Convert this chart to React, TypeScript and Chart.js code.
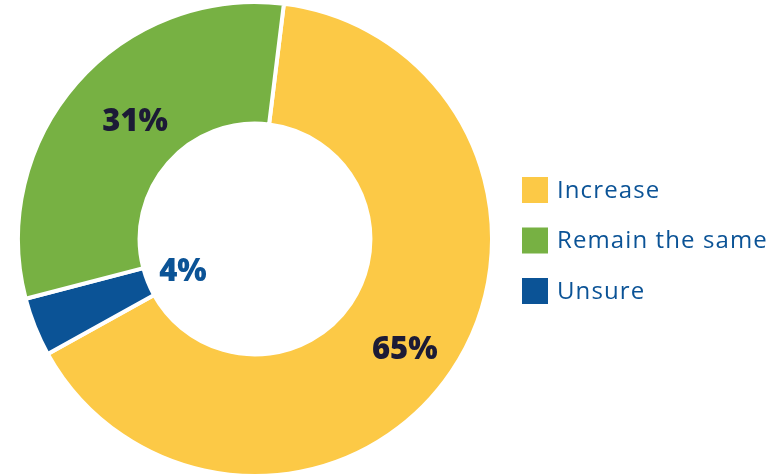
import React, { useEffect, useRef } from "react";
import { Chart, registerables } from "chart.js";

Chart.register(...registerables);

const categories = ["Increase", "Remain the same", "Unsure"];
const values = [65, 31, 4];
const valueLabels = ["65%", "31%", "4%"];
const colors = ["#FCC946", "#77B143", "#0B5396"];
const labelColors = ["#1C1B36", "#1C1B36", "#0B5396"];
// order in which the slices run clockwise around the ring
const drawOrder = [0, 2, 1];
// label anchor: angle (deg clockwise from top) and radius as fraction of outer radius
const labelAngles = [126, 314.8, 246.7];
const labelRadii = [0.781, 0.713, 0.331];

const labelPlugin = {
  id: "pctLabels",
  afterDatasetsDraw(chart: any) {
    const ctx = chart.ctx;
    const arc = chart.getDatasetMeta(0).data[0];
    if (!arc) return;
    const cx = arc.x;
    const cy = arc.y;
    const R = arc.outerRadius;
    ctx.save();
    ctx.textAlign = "center";
    ctx.textBaseline = "middle";
    valueLabels.forEach((t, i) => {
      const a = (labelAngles[i] * Math.PI) / 180;
      const x = cx + Math.sin(a) * R * labelRadii[i];
      const y = cy - Math.cos(a) * R * labelRadii[i] + 2;
      ctx.font = "800 31px 'Open Sans'";
      ctx.fillStyle = labelColors[i];
      ctx.fillText(t, x, y);
    });
    ctx.restore();
  },
};

const legendPlugin = {
  id: "sideLegend",
  afterDraw(chart: any) {
    const ctx = chart.ctx;
    const left = 522;
    const box = 26;
    const gap = 50.5;
    ctx.save();
    ctx.textBaseline = "middle";
    ctx.textAlign = "left";
    ctx.font = "24px 'Open Sans'";
    try {
      (ctx as any).letterSpacing = "1.1px";
    } catch (e) {}
    categories.forEach((c, i) => {
      const y = 190 + i * gap;
      ctx.fillStyle = colors[i];
      ctx.fillRect(left, y - box / 2, box, box);
      ctx.fillStyle = "#0B5396";
      ctx.fillText(c, left + box + 9, y + 1);
    });
    ctx.restore();
  },
};

export default function App() {
  const ref = useRef<HTMLCanvasElement>(null);
  useEffect(() => {
    document.body.style.margin = "0";
    const chart = new Chart(ref.current!, {
      type: "doughnut",
      data: {
        labels: drawOrder.map((i) => categories[i]),
        datasets: [
          {
            data: drawOrder.map((i) => values[i]),
            backgroundColor: drawOrder.map((i) => colors[i]),
            borderColor: "#ffffff",
            borderWidth: 4,
          },
        ],
      },
      options: {
        animation: false,
        responsive: true,
        maintainAspectRatio: false,
        rotation: 7,
        cutout: "48.7%",
        layout: { padding: { left: 16, right: 290, top: 0, bottom: 2 } },
        plugins: {
          legend: { display: false },
          tooltip: { enabled: false },
        },
      },
      plugins: [labelPlugin, legendPlugin],
    });
    return () => chart.destroy();
  }, []);
  return (
    <div style={{ width: 784, height: 480, position: "relative" }}>
      <canvas ref={ref} />
    </div>
  );
}
